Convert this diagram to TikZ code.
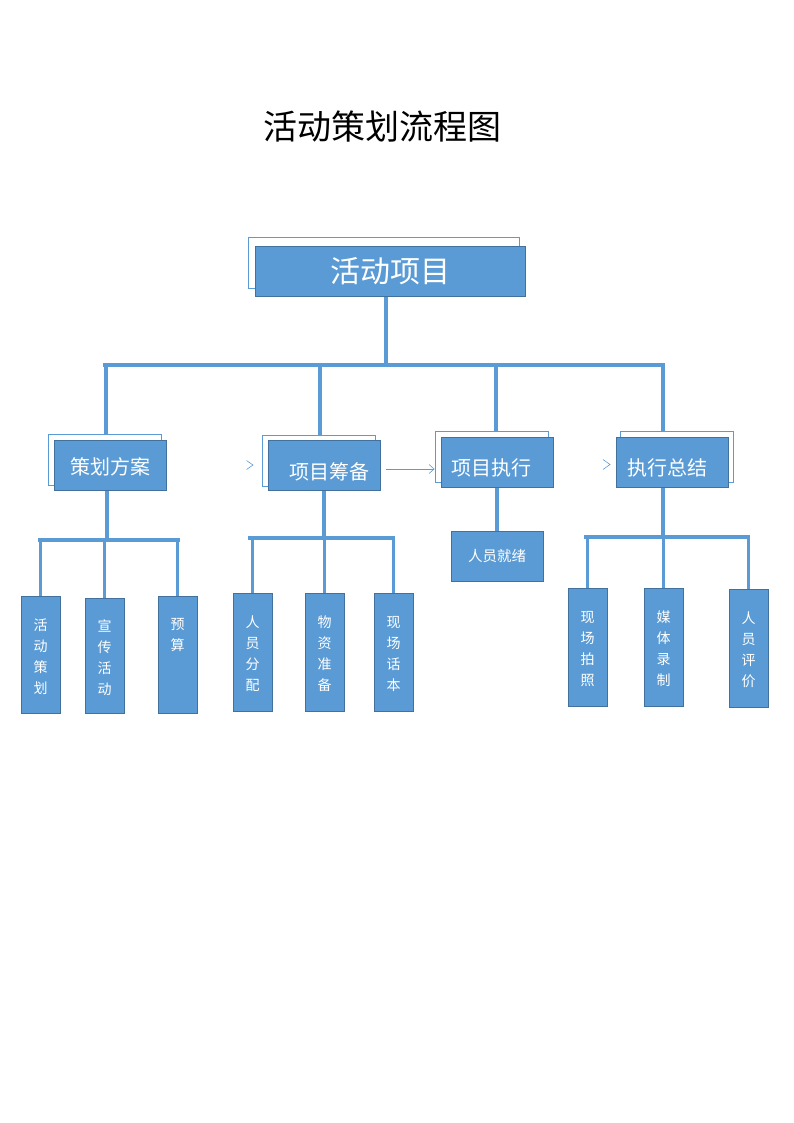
\documentclass[tikz,border=0pt]{standalone}
\usepackage{fontspec}
\newfontfamily\cjk{Noto Sans CJK SC}
\usetikzlibrary{arrows.meta}
\usepackage{xcolor}
\definecolor{boxblue}{HTML}{5B9BD5}
\definecolor{edgeblue}{HTML}{41719C}
\pgfdeclarelayer{bg}
\pgfdeclarelayer{back}
\pgfsetlayers{bg,back,main}
\newcommand{\vtext}[1]{\parbox[c][110pt][t]{20pt}{\centering\fontsize{14}{21}\selectfont\vspace*{19pt}#1}}

\begin{document}
\begin{tikzpicture}[x=1pt,y=-1pt,
        conn/.style={boxblue,line width=3.5pt,line cap=rect},
        box/.style={fill=boxblue,draw=edgeblue,line width=0.9pt,text=white,inner sep=0pt,font=\cjk},
        back/.style={fill=white,draw=boxblue,line width=0.8pt},
        mid/.style={box,minimum width=112pt,minimum height=50pt},
        midtext/.style={text=white,font=\cjk\fontsize{20}{20}\selectfont},
        leaf/.style={box,minimum width=39pt,minimum height=117pt},
        chev/.style={boxblue,line width=0.6pt}]
        \useasboundingbox (0,0) rectangle (794,1123);
        \node[font=\cjk\fontsize{34}{34}\selectfont] (title) at (382,127) {活动策划流程图};
        \node[box,minimum width=270pt,minimum height=50pt,font=\cjk\fontsize{30}{30}\selectfont] (root) at (390,271) {活动项目};
        % second row
        \node[mid,label={[midtext,yshift=-2pt]center:策划方案}] (plan) at (110,465) {};
        \node[mid,label={[midtext,xshift=5pt,yshift=-6pt]center:项目筹备}] (prep) at (324,465.5) {};
        \node[mid,label={[midtext,xshift=-6pt,yshift=-6pt]center:项目执行}] (exec) at (497,462) {};
        \node[mid,label={[midtext,xshift=-5pt,yshift=-6pt]center:执行总结}] (sum) at (672,462) {};
        % leaves
        \node[leaf] (a1) at (40.5,654.5) {\vtext{活\\动\\策\\划}};
        \node[leaf,minimum height=115pt] (a2) at (104.5,655.5) {\vtext{宣\\传\\活\\动}};
        \node[leaf] (a3) at (177.5,654.5) {\vtext{预\\算}};
        \node[leaf,minimum height=118pt] (b1) at (252.5,652) {\vtext{人\\员\\分\\配}};
        \node[leaf,minimum height=118pt] (b2) at (324.5,652) {\vtext{物\\资\\准\\备}};
        \node[leaf,minimum height=118pt] (b3) at (393.5,652) {\vtext{现\\场\\话\\本}};
        \node[box,minimum width=92pt,minimum height=50pt,font=\cjk\fontsize{14.5}{15}\selectfont] (ready) at (497,556) {人员就绪};
        \node[leaf,minimum height=118pt] (d1) at (587.5,647) {\vtext{现\\场\\拍\\照}};
        \node[leaf,minimum height=118pt] (d2) at (663.5,647) {\vtext{媒\\体\\录\\制}};
        \node[leaf,minimum height=118pt] (d3) at (748.5,648) {\vtext{人\\员\\评\\价}};
        \coordinate (busL) at (105,365);
        \coordinate (busR) at (663,365);
        \coordinate (planL) at (40,540);
        \coordinate (planR) at (178,540);
        \coordinate (prepL) at (250,538);
        \coordinate (prepR) at (393,538);
        \coordinate (sumL) at (586,537);
        \coordinate (sumR) at (747,537);
        % outlined copies behind the upper boxes
        \begin{pgfonlayer}{back}
        \draw[back] ([shift={(-6pt,8pt)}]root.south west) rectangle ([shift={(-6pt,8pt)}]root.north east);
        \foreach \n/\dx in {plan/-5pt,prep/-5pt,exec/-5pt,sum/5pt}
          \draw[back] ([shift={(\dx,5pt)}]\n.south west) rectangle ([shift={(\dx,5pt)}]\n.north east);
        \end{pgfonlayer}
        \begin{pgfonlayer}{bg}
        \draw[conn] ([xshift=-4pt]root.south) -- ([xshift=-4pt]root.south |- busL);
        \draw[conn] (busL) -- (busR);
        \draw[conn] ([xshift=-4pt]plan.north) -- ([xshift=-4pt]plan.north |- busL);
        \draw[conn] ([xshift=-4pt]prep.north) -- ([xshift=-4pt]prep.north |- busL);
        \draw[conn] ([xshift=-1pt]exec.north) -- ([xshift=-1pt]exec.north |- busL);
        \draw[conn] ([xshift=-9pt]sum.north) -- ([xshift=-9pt]sum.north |- busL);
        \draw[conn] ([xshift=-3pt]plan.south) -- ([xshift=-3pt]plan.south |- planL);
        \draw[conn] (planL) -- (planR);
        \foreach \n in {a1,a2,a3}
          \draw[conn] (\n.north) -- (\n.north |- planL);
        \draw[conn] (prep.south) -- (prep.south |- prepL);
        \draw[conn] (prepL) -- (prepR);
        \foreach \n in {b1,b2,b3}
          \draw[conn] (\n.north) -- (\n.north |- prepL);
        \draw[conn] (exec.south) -- (ready.north);
        \draw[conn] ([xshift=-9pt]sum.south) -- ([xshift=-9pt]sum.south |- sumL);
        \draw[conn] (sumL) -- (sumR);
        \foreach \n in {d1,d2,d3}
          \draw[conn] (\n.north) -- (\n.north |- sumL);
        \end{pgfonlayer}
        % arrow between prep and exec, and the two loose heads
        \draw[chev,-{Straight Barb[length=5pt,width=9pt]}] ([xshift=6pt,yshift=-3.5pt]prep.east) -- ([xshift=-6pt,yshift=-7pt]exec.west);
        \draw[chev] (246.5,460.5) -- (253,465) -- (246.5,469.5);
        \draw[chev] (603,459.5) -- (610,464.5) -- (603,469.5);
\end{tikzpicture}
\end{document}
